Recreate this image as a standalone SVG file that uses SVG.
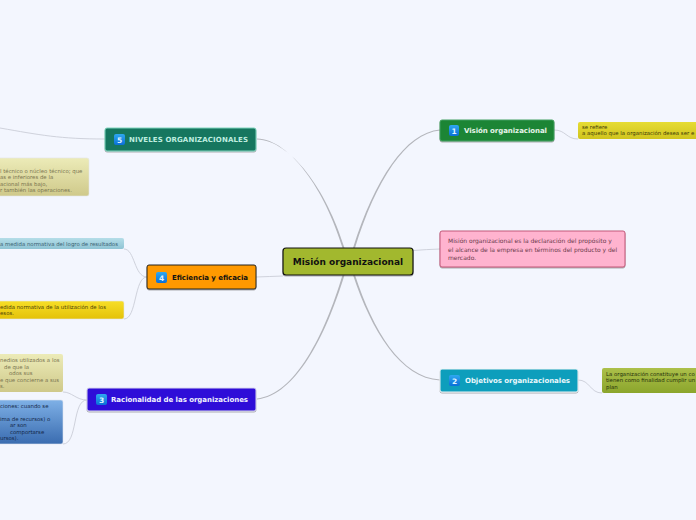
<svg xmlns="http://www.w3.org/2000/svg" width="696" height="520" viewBox="0 0 696 520">
<style>
text{font-family:"DejaVu Sans",Verdana,sans-serif}
.t{font-size:7px;font-weight:700}
.n{font-size:5.4px}
.c{fill:none;stroke:#cfd2dc;stroke-width:1}
.m{fill:#b4b6bc;stroke:none}
.i{font-size:7.5px;font-weight:700;fill:#dff2ff;text-anchor:middle}
.s{filter:url(#sh)}
</style>
<defs>
<filter id="sh" x="-10%" y="-20%" width="120%" height="150%"><feDropShadow dx="0" dy="1" stdDeviation="0.7" flood-color="#555" flood-opacity="0.45"/></filter>
<linearGradient id="ib" x1="0" y1="0" x2="0" y2="1"><stop offset="0" stop-color="#2fa8f0"/><stop offset="1" stop-color="#0a6fd8"/></linearGradient>
<linearGradient id="gk" x1="0" y1="0" x2="0" y2="1"><stop offset="0" stop-color="#ecebb8"/><stop offset="1" stop-color="#cfc98a"/></linearGradient>
<linearGradient id="gb" x1="0" y1="0" x2="0" y2="1"><stop offset="0" stop-color="#b4dde8"/><stop offset="1" stop-color="#8fc4d4"/></linearGradient>
<linearGradient id="gy" x1="0" y1="0" x2="0" y2="1"><stop offset="0" stop-color="#f7de28"/><stop offset="1" stop-color="#e4c208"/></linearGradient>
<linearGradient id="gu" x1="0" y1="0" x2="0" y2="1"><stop offset="0" stop-color="#7eb0e6"/><stop offset="1" stop-color="#3a6cb0"/></linearGradient>
<linearGradient id="gv" x1="0" y1="0" x2="0" y2="1"><stop offset="0" stop-color="#e6dc34"/><stop offset="1" stop-color="#d0c41e"/></linearGradient>
<linearGradient id="gg" x1="0" y1="0" x2="0" y2="1"><stop offset="0" stop-color="#acc04a"/><stop offset="1" stop-color="#8ba52c"/></linearGradient>
</defs>
<rect width="696" height="520" fill="#f3f6fe"/>
<g id="connectors">
<path class="m" d="M257 138.500C290 139.500 325 190 342.500 248L344.500 248C326.500 189.500 290.800 140.500 257 139.500Z"/>
<path class="m" d="M440 129.500C405 132.500 374.500 180 353 248L355 248C376 180.500 405.800 133.500 440 130.500Z"/>
<path class="m" d="M342.500 275C324.500 335 295 394.500 257 398.500L257 399.500C295.800 395.500 326 335.500 344.500 275Z"/>
<path class="m" d="M353 275C371.500 330.500 400.200 378.500 440 380.500L440 379.500C400.800 377.500 373 330 355 275Z"/>
<path class="c" d="M283 276Q270 276.500 256 277"/>
<path class="c" d="M413 250.500Q426 249.500 440 249"/>
<path class="c" d="M105 139C60 139 40 135 0 128"/>
<path class="c" d="M147 277C134 277 135 249 124 249"/>
<path class="c" d="M147 277C134 277 137 319 124 319"/>
<path class="c" d="M87 400C76 400 72 392 63 392"/>
<path class="c" d="M87 400C72 400 78 444 63 444"/>
<path class="c" d="M554 130C566 130 566 139 578 139"/>
<path class="c" d="M578 380C590 380 590 393 602 393"/>
</g>
<g id="center"><rect class="s" x="283" y="248" width="130" height="27" rx="3" fill="#a2b82f" stroke="#111" stroke-width="1.2"/><text x="348" y="265" text-anchor="middle" font-size="9" font-weight="700" fill="#111">Misión organizacional</text></g>
<g id="node5"><rect class="s" x="105" y="128" width="151" height="23" rx="2" fill="#17765f" stroke="#7fd4bd"/><rect x="114" y="134" width="11" height="11" rx="2" fill="url(#ib)"/><text class="i" x="119.500" y="142.500">5</text><text class="t" x="129" y="142" fill="#bfeee0" textLength="119">NIVELES ORGANIZACIONALES</text></g>
<g id="note5"><rect x="-4" y="158" width="93" height="38" rx="2" fill="url(#gk)" stroke="#e4e6e6" stroke-width="0.600"/><g class="n" fill="#7a7550"><text x="0" y="173">l técnico o núcleo técnico; que</text><text x="0" y="179">as e inferiores de la</text><text x="0" y="186">acional más bajo,</text><text x="0" y="192">r también las operaciones.</text></g></g>
<g id="node4"><rect class="s" x="147" y="265" width="109" height="24" rx="2" fill="#ff9900" stroke="#222"/><rect x="156" y="272" width="11" height="11" rx="2" fill="url(#ib)"/><text class="i" x="161.500" y="280.500">4</text><text class="t" x="172" y="280" fill="#111" textLength="76">Eficiencia y eficacia</text></g>
<g id="note4a"><rect x="-4" y="238" width="128" height="11" rx="2" fill="url(#gb)"/><text class="n" x="0" y="246" fill="#3d6474">a medida normativa del logro de resultados</text></g>
<g id="note4b"><rect x="-4" y="301" width="128" height="18" rx="2" fill="url(#gy)" stroke="#e4e6e6" stroke-width="0.600"/><g class="n" fill="#4d4308"><text x="0" y="309">edida normativa de la utilización de los</text><text x="0" y="315">esos.</text></g></g>
<g id="node3"><rect class="s" x="87" y="388" width="169" height="23" rx="2" fill="#2f0bd8" stroke="#d8d8ee"/><rect x="96" y="394" width="11" height="11" rx="2" fill="url(#ib)"/><text class="i" x="101.500" y="402.500">3</text><text class="t" x="111" y="402" fill="#f2f2ff" textLength="137">Racionalidad de las organizaciones</text></g>
<g id="note3a"><rect x="-4" y="354" width="67" height="38" rx="2" fill="url(#gk)"/><g class="n" fill="#7a7550"><text x="0" y="362">nedios utilizados a los</text><text x="4" y="368.500">de que la</text><text x="9" y="375">odos sus</text><text x="0" y="382">e que concierne a sus</text><text x="0" y="388">s.</text></g></g>
<g id="note3b"><rect x="-4" y="400" width="67" height="44" rx="2" fill="url(#gu)" stroke="#dfe4ee" stroke-width="0.600"/><g class="n" fill="#14284a"><text x="0" y="408">ciones: cuando se</text><text x="0" y="421">ima de recursos) o</text><text x="10" y="427">ar son</text><text x="10" y="434">comportarse</text><text x="0" y="440">ursos).</text></g></g>
<g id="node1"><rect class="s" x="440" y="120" width="114" height="21" rx="2" fill="#1a8536" stroke="#45a060"/><rect x="449" y="125" width="10" height="11" rx="2" fill="url(#ib)"/><text class="i" x="454" y="133.500">1</text><text class="t" x="464" y="133" fill="#e8f5ea" textLength="83">Visión organizacional</text></g>
<g id="note1"><rect x="578" y="122" width="122" height="17" rx="2" fill="url(#gv)"/><g class="n" fill="#3d3a08"><text x="582" y="129">se refiere</text><text x="582" y="135">a aquello que la organización desea ser e</text></g></g>
<g id="mission"><rect class="s" x="440" y="231" width="185" height="36" rx="2" fill="#ffb3cf" stroke="#c25778"/><g font-size="6" fill="#6b3a4c"><text x="448" y="243">Misión organizacional es la declaración del propósito y</text><text x="448" y="252">el alcance de la empresa en términos del producto y del</text><text x="448" y="260">mercado.</text></g></g>
<g id="node2"><rect class="s" x="440" y="369" width="138" height="23" rx="2" fill="#0f9ebc" stroke="#eef4f6"/><rect x="449" y="375" width="11" height="11" rx="2" fill="url(#ib)"/><text class="i" x="454.500" y="383.500">2</text><text class="t" x="465" y="383" fill="#eaf8fc" textLength="105">Objetivos organizacionales</text></g>
<g id="note2"><rect x="602" y="368" width="98" height="25" rx="2" fill="url(#gg)"/><g class="n" fill="#24300a"><text x="606" y="376">La organización constituye un co</text><text x="606" y="382">tienen como finalidad cumplir un</text><text x="606" y="389">plan</text></g></g>
</svg>
